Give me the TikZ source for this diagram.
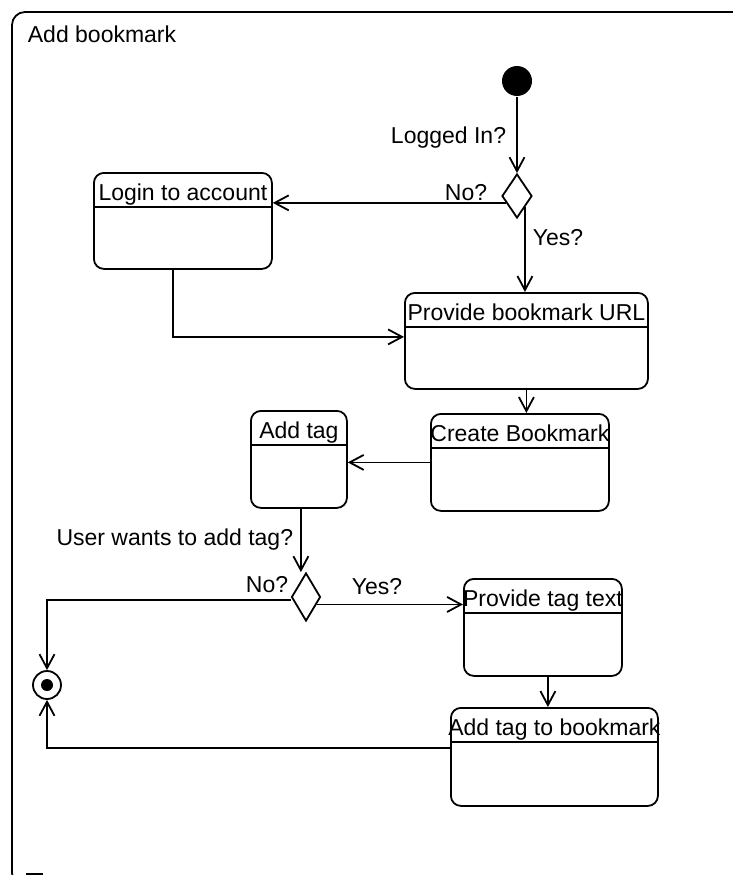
\documentclass[tikz,border=0pt]{standalone}
\usepackage{fontspec}
\setmainfont{Liberation Sans}
\usepackage{tikz}
\usetikzlibrary{shapes.geometric,arrows.meta,positioning,calc}

\begin{document}
\begin{tikzpicture}[x=1pt,y=-1pt,line width=1.8pt,
  every node/.style={font=\fontsize{23}{27}\selectfont},
  actbox/.style={draw, rounded corners=10pt, anchor=north west, inner sep=0pt},
  boxtitle/.style={anchor=north, yshift=-11pt, inner sep=0pt},
  decision/.style={draw, diamond, inner sep=0pt, minimum width=30pt, minimum height=44pt},
  flow/.style={-{Straight Barb[length=14pt,width=15pt]}},
  lbl/.style={inner sep=0pt}]
\useasboundingbox (0,0) rectangle (732,875);
\draw[rounded corners=13pt] (12,12) rectangle (760,886);
\draw (26,874) -- (43,874);
\node[lbl, anchor=base west] (title) at (27,43) {Add bookmark};

\node[circle, fill, inner sep=0pt, minimum size=30pt] (start) at (517,81) {};
\node[decision] (dec1) at (517,196) {};
\node[actbox, minimum width=178pt, minimum height=96pt,
  label={[boxtitle]north:Login to account}] (login) at (93,172) {};
\node[actbox, minimum width=243pt, minimum height=96pt,
  label={[boxtitle]north:Provide bookmark URL}] (provide) at (404,292) {};
\node[actbox, minimum width=178pt, minimum height=97pt,
  label={[boxtitle]north:Create Bookmark}] (create) at (430,413) {};
\node[actbox, minimum width=96pt, minimum height=97pt,
  label={[boxtitle]north:Add tag}] (addtag) at (250,410) {};
\node[decision, minimum width=29pt, minimum height=48pt] (dec2) at (306,597) {};
\node[actbox, minimum width=158pt, minimum height=97pt,
  label={[boxtitle]north:Provide tag text}] (ptag) at (463,578) {};
\node[actbox, minimum width=207pt, minimum height=98pt,
  label={[boxtitle]north:Add tag to bookmark}] (atb) at (450,707) {};
\node[circle, draw, inner sep=0pt, minimum size=28pt] (final) at (47,685) {};
\node[circle, fill, inner sep=0pt, minimum size=12pt] (finaldot) at (final) {};

\foreach \n in {login,provide,create,addtag,ptag,atb}
  \draw ([yshift=-35pt]\n.north west) -- ([yshift=-35pt]\n.north east);

\coordinate (noA) at ($(dec1.west)!0.3!(dec1.south)$);
\coordinate (yesA) at ($(dec1.east)!0.5!(dec1.south)$);
\coordinate (yesB) at ($(dec2.east)!0.3!(dec2.south)$);

\draw[flow] (start) -- (dec1);
\draw[flow] (noA) -- (noA -| login.east);
\draw[flow] (yesA) -- (yesA |- provide.north);
\draw[flow] ([xshift=-10pt]login.south) |- ([yshift=4pt]provide.west);
\draw[flow] (provide.south) -- (provide.south |- create.north);
\draw[flow] (create.west) -- (create.west -| addtag.east);
\draw[flow] ([xshift=2pt]addtag.south) -- ([xshift=2pt]addtag.south |- dec2.north);
\draw[flow] ([yshift=-3pt]dec2.west) -| (final.north);
\draw[flow] (yesB) -- (yesB -| ptag.west);
\draw[flow] ([xshift=5pt]ptag.south) -- ([xshift=5pt]ptag.south |- atb.north);
\draw[flow] ([yshift=9pt]atb.west) -| (final.south);

\node[lbl, anchor=base east] (logged) at (507,143) {Logged In?};
\node[lbl, anchor=base west] (noone) at (444,200) {No?};
\node[lbl, anchor=base west] (yesone) at (532,245) {Yes?};
\node[lbl, anchor=base east] (wants) at (294,545) {User wants to add tag?};
\node[lbl, anchor=base west] (notwo) at (245,592) {No?};
\node[lbl, anchor=base west] (yestwo) at (351,594) {Yes?};
\end{tikzpicture}
\end{document}
